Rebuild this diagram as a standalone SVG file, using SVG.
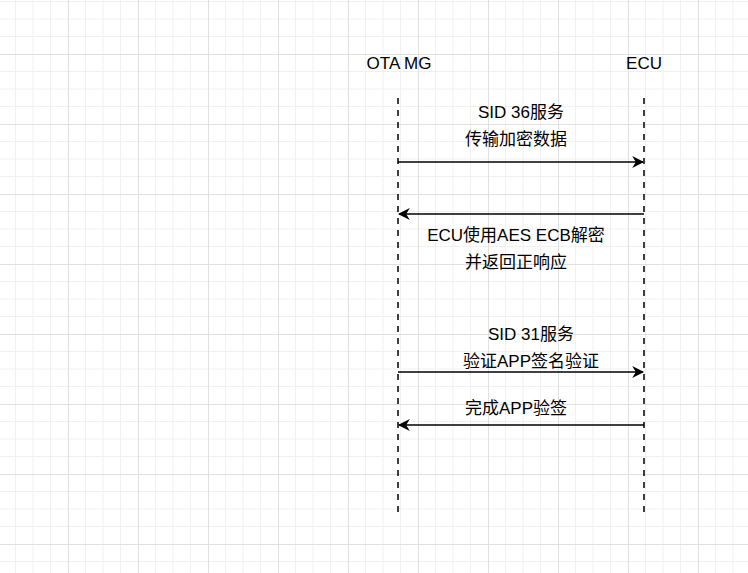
<svg xmlns="http://www.w3.org/2000/svg" width="748" height="573" viewBox="0 0 748 573">
<defs>
<pattern id="g" width="70" height="70" patternUnits="userSpaceOnUse" x="-2" y="-16">
<path d="M0 17.5H70M0 35H70M0 52.5H70M17.5 0V70M35 0V70M52.5 0V70" stroke="#f0f0f0" stroke-width="1" fill="none"/>
<path d="M0 0.5H70M0.5 0V70" stroke="#e0e0e0" stroke-width="1" fill="none"/>
</pattern>
<marker id="a" viewBox="0 0 10 10" refX="9" refY="5" markerWidth="12" markerHeight="12" markerUnits="userSpaceOnUse" orient="auto"><path d="M0 0L10 5L0 10L3 5Z" fill="#000"/></marker>
</defs>
<style>
text{font-family:"Liberation Sans","Noto Sans CJK SC",sans-serif;font-size:17px;fill:#000;text-anchor:middle}
.life{stroke:#000;stroke-width:1.5;stroke-dasharray:6 6}
.msg{stroke:#000;stroke-width:1.5;marker-end:url(#a)}
</style>
<rect width="748" height="573" fill="#fff"/>
<rect width="748" height="573" fill="url(#g)"/>
<g id="otamg"><text x="399" y="69">OTA MG</text><line class="life" x1="398" y1="98" x2="398" y2="515"/></g>
<g id="ecu"><text x="644" y="69">ECU</text><line class="life" x1="644" y1="98" x2="644" y2="515"/></g>
<g id="connectors">
<line class="msg" x1="398" y1="162" x2="643" y2="162"/>
<line class="msg" x1="644" y1="214" x2="399" y2="214"/>
<line class="msg" x1="398" y1="372" x2="643" y2="372"/>
<line class="msg" x1="644" y1="425" x2="399" y2="425"/>
</g>
<g id="labels">
<text x="521" y="118">SID 36服务</text><text x="516" y="145">传输加密数据</text>
<text x="516" y="241">ECU使用AES ECB解密</text><text x="516" y="268">并返回正响应</text>
<text x="531" y="340">SID 31服务</text><text x="531" y="367">验证APP签名验证</text>
<text x="516" y="414">完成APP验签</text>
</g>
</svg>
